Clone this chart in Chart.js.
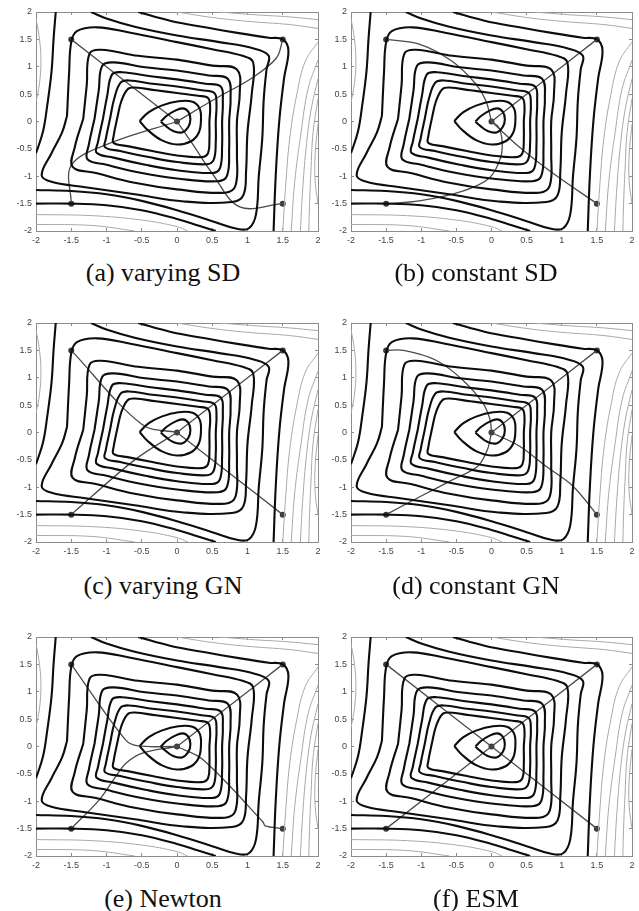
<!DOCTYPE html>
<html>
<head>
<meta charset="utf-8">
<script src="https://cdn.jsdelivr.net/npm/chart.js@4.4.1/dist/chart.umd.min.js"></script>
<style>
  body { margin: 0; background: #fff; width: 639px; height: 911px; position: relative; overflow: hidden; }
  canvas { position: absolute; }
  .cap { position: absolute; width: 320px; text-align: center; font-family: "Liberation Serif", serif; font-size: 26px; color: #111; }
</style>
</head>
<body>
<canvas id="pa" width="322" height="253" style="left:0px;top:0px"></canvas>
<canvas id="pb" width="321" height="253" style="left:315px;top:0px"></canvas>
<canvas id="pc" width="322" height="253" style="left:0px;top:311px"></canvas>
<canvas id="pd" width="321" height="253" style="left:315px;top:311px"></canvas>
<canvas id="pe" width="322" height="253" style="left:0px;top:625px"></canvas>
<canvas id="pf" width="321" height="253" style="left:315px;top:625px"></canvas>
<div class="cap" style="left:3px;top:258px">(a) varying SD</div>
<div class="cap" style="left:316px;top:258px">(b) constant SD</div>
<div class="cap" style="left:3px;top:571px">(c) varying GN</div>
<div class="cap" style="left:316px;top:571px">(d) constant GN</div>
<div class="cap" style="left:3px;top:884px">(e) Newton</div>
<div class="cap" style="left:316px;top:884px">(f) ESM</div>
<script>
// tick labels
const tickValues = [-2, -1.5, -1, -0.5, 0, 0.5, 1, 1.5, 2];

// black level curves (closed loops around the minimum)
const loop1 = [[-0.23,0],[-0.15,0.1],[-0.04,0.19],[0.08,0.24],[0.16,0.18],[0.19,0.04],[0.16,-0.1],[0.07,-0.2],[-0.06,-0.17],[-0.16,-0.08],[-0.23,0]];
const loop2 = [[-0.53,0.01],[-0.4,0.17],[-0.22,0.29],[0.02,0.37],[0.22,0.36],[0.32,0.24],[0.34,0.03],[0.31,-0.2],[0.2,-0.36],[0,-0.42],[-0.22,-0.34],[-0.42,-0.15],[-0.53,0.01]];
const loop3 = [[-0.85,0.05],[-0.79,0.37],[-0.7,0.59],[-0.6,0.62],[-0.3,0.57],[0,0.52],[0.3,0.47],[0.44,0.43],[0.47,0.27],[0.46,0],[0.46,-0.33],[0.44,-0.58],[0.35,-0.65],[0,-0.62],[-0.35,-0.54],[-0.7,-0.45],[-0.9,-0.39],[-0.9,-0.27],[-0.85,0.05]];
const loop4 = [[-0.95,0.05],[-0.89,0.42],[-0.8,0.71],[-0.68,0.75],[-0.35,0.69],[0,0.64],[0.35,0.57],[0.53,0.52],[0.56,0.32],[0.55,0],[0.55,-0.38],[0.52,-0.7],[0.42,-0.78],[0,-0.74],[-0.4,-0.65],[-0.8,-0.54],[-1.02,-0.47],[-1.01,-0.32],[-0.95,0.05]];
const loop5 = [[-1.05,0.05],[-0.99,0.47],[-0.92,0.86],[-0.78,0.9],[-0.4,0.83],[0,0.77],[0.4,0.69],[0.62,0.64],[0.65,0.37],[0.64,0],[0.64,-0.43],[0.61,-0.85],[0.5,-0.94],[0,-0.89],[-0.45,-0.79],[-0.9,-0.66],[-1.14,-0.57],[-1.12,-0.37],[-1.05,0.05]];
const loop6 = [[-1.17,0.05],[-1.11,0.57],[-1.06,1.02],[-0.9,1.08],[-0.45,0.99],[0,0.93],[0.45,0.84],[0.72,0.78],[0.76,0.42],[0.74,0],[0.74,-0.48],[0.71,-0.99],[0.58,-1.09],[0,-1.04],[-0.5,-0.94],[-1,-0.79],[-1.27,-0.69],[-1.25,-0.42],[-1.17,0.05]];
const loop7 = [[-1.33,0.05],[-1.28,0.67],[-1.24,1.24],[-1.08,1.31],[-0.55,1.2],[0,1.13],[0.5,1.02],[0.85,0.95],[0.89,0.52],[0.85,0],[0.85,-0.58],[0.83,-1.17],[0.68,-1.3],[0,-1.24],[-0.6,-1.12],[-1.15,-0.94],[-1.48,-0.83],[-1.45,-0.47],[-1.33,0.05]];
const loop8 = [[-1.56,0.1],[-1.53,0.9],[-1.5,1.45],[-1.42,1.65],[-1.13,1.72],[-0.66,1.62],[0,1.45],[0.5,1.32],[0.93,1.2],[1.08,1.08],[1.06,0.5],[1,-0.2],[0.98,-0.9],[0.94,-1.35],[0.78,-1.47],[0.1,-1.46],[-0.6,-1.33],[-1.3,-1.2],[-1.78,-1.1],[-1.92,-0.98],[-1.78,-0.58],[-1.63,-0.2],[-1.56,0.1]];

// black level curves cut by the frame
const open1 = [[-1.72,2],[-1.75,1.52],[-1.78,0.91],[-1.84,0.3],[-1.9,-0.18],[-2,-0.58]];
const open2 = [[-2,-1.25],[-1.5,-1.27],[-1,-1.33],[-0.5,-1.45],[0,-1.62],[0.5,-1.82],[0.85,-1.96],[1.02,-1.95],[1.12,-1.7],[1.16,-1],[1.21,-0.3],[1.23,0.4],[1.27,0.95],[1.3,1.2],[1.1,1.33],[0.6,1.45],[0,1.57],[-0.6,1.73],[-1,1.88],[-1.22,2]];
const open3 = [[-2,-1.5],[-1.5,-1.5],[-1,-1.53],[-0.5,-1.62],[0,-1.78],[0.3,-1.9],[0.55,-2]];
const open4 = [[-0.55,2],[-0.1,1.84],[0.4,1.72],[0.9,1.61],[1.3,1.53],[1.5,1.5],[1.58,1.3],[1.52,0.8],[1.45,0],[1.4,-1],[1.37,-2]];

// grey level curves
const grey1 = [[-2,1.88],[-1.95,1.5],[-1.93,1.1],[-1.95,0.7],[-2,0.35]];
const grey2 = [[0,2],[0.5,1.9],[1,1.83],[1.6,1.77],[2,1.7]];
const grey3 = [[0.6,2],[1.1,1.95],[1.6,1.91],[2,1.86]];
const grey4 = [[2,1.45],[1.82,1.1],[1.7,0.5],[1.6,-0.3],[1.54,-1.2],[1.5,-2]];
const grey5 = [[2,1.12],[1.86,0.6],[1.76,-0.2],[1.67,-1.1],[1.62,-2]];
const grey6 = [[2,0.78],[1.9,0.2],[1.83,-0.5],[1.78,-1.3],[1.75,-2]];
const grey7 = [[2,0.42],[1.93,-0.2],[1.9,-0.9],[1.88,-1.5],[1.87,-2]];
const grey8 = [[2,-0.05],[1.96,-0.6],[1.96,-1.1],[2,-1.5]];
const grey9 = [[-2,-1.7],[-1.2,-1.72],[-0.5,-1.8],[0,-1.92],[0.15,-2]];
const grey10 = [[-2,-1.88],[-1.2,-1.9],[-0.6,-2]];

// start points and minimum
const markers = [[-1.5,1.5],[1.5,1.5],[-1.5,-1.5],[1.5,-1.5],[0,0]];

// optimisation paths, one set per panel
const pathsA = [
  [[-1.5,1.5],[-0.75,0.75],[0,0]],
  [[1.5,1.5],[1.41,1.16],[1.07,0.8],[0.55,0.42],[0,0]],
  [[-1.5,-1.5],[-1.5,-0.8],[-0.96,-0.4],[0,0]],
  [[1.5,-1.5],[0.89,-1.56],[0.5,-0.95],[0.22,-0.41],[0,0]]
];
const pathsB = [
  [[-1.5,1.5],[-1.02,1.41],[-0.56,1.1],[-0.22,0.68],[-0.08,0.38],[0,0]],
  [[1.5,1.5],[0.75,0.75],[0,0]],
  [[-1.5,-1.5],[-1.03,-1.45],[-0.41,-1.27],[-0.03,-1.03],[0.13,-0.66],[0.15,-0.35],[0.1,-0.1],[0,0]],
  [[1.5,-1.5],[0.88,-0.95],[0.4,-0.47],[0,0]]
];
const pathsC = [
  [[-1.5,1.5],[-0.5,0.15],[0,0]],
  [[1.5,1.5],[0.75,0.75],[0,0]],
  [[-1.5,-1.5],[-0.6,-0.5],[0,0]],
  [[1.5,-1.5],[0.75,-0.75],[0,0]]
];
const pathsD = [
  [[-1.5,1.5],[-1.25,1.5],[-0.79,1.32],[-0.41,0.96],[-0.12,0.53],[-0.02,0.23],[0,0]],
  [[1.5,1.5],[0.75,0.75],[0,0]],
  [[-1.5,-1.5],[-1,-1.16],[-0.55,-0.86],[-0.2,-0.62],[-0.06,-0.32],[0,0]],
  [[1.5,-1.5],[1.16,-0.98],[0.78,-0.62],[0.4,-0.25],[0,0]]
];
const pathsE = [
  [[-1.5,1.5],[-0.73,0.12],[-0.55,0.01],[0,0]],
  [[1.5,1.5],[0.75,0.75],[0,0]],
  [[-1.5,-1.5],[-1.1,-0.97],[-0.87,-0.55],[-0.72,-0.3],[-0.49,-0.12],[0,0]],
  [[1.5,-1.5],[1.25,-1.45],[1.22,-1.38],[0.37,-0.24],[0,0]]
];
const pathsF = [
  [[-1.5,1.5],[0,0]],
  [[1.5,1.5],[0,0]],
  [[-1.5,-1.5],[0,0]],
  [[1.5,-1.5],[0,0]]
];

const blackCurves = [loop1, loop2, loop3, loop4, loop5, loop6, loop7, loop8, open1, open2, open3, open4];
const greyCurves = [grey1, grey2, grey3, grey4, grey5, grey6, grey7, grey8, grey9, grey10];

function toXY(pairs) {
  return pairs.map(p => ({ x: p[0], y: p[1] }));
}

function fmtTick(v) {
  return String(Math.round(v * 10) / 10);
}

function buildDatasets(paths) {
  const sets = [];
  greyCurves.forEach(c => sets.push({
    data: toXY(c), borderColor: '#a8a8a8', borderWidth: 1, pointRadius: 0, tension: 0.4, showLine: true
  }));
  blackCurves.forEach(c => sets.push({
    data: toXY(c), borderColor: '#0d0d0d', borderWidth: 2.1, pointRadius: 0, tension: 0.4, showLine: true
  }));
  paths.forEach(p => sets.push({
    data: toXY(p), borderColor: '#4a4a4a', borderWidth: 1.3, pointRadius: 0, tension: 0.35, showLine: true
  }));
  sets.push({
    data: toXY(markers), showLine: false, pointRadius: 3, pointBackgroundColor: '#3a3a3a', pointBorderColor: '#3a3a3a', pointBorderWidth: 0
  });
  return sets;
}

function makePanel(id, paths) {
  const frame = { display: true, color: '#8c8c8c', width: 1 };
  const innerTicks = { drawOnChartArea: false, drawTicks: true, tickLength: -3, color: '#8c8c8c' };
  const tickFont = { family: 'Liberation Sans', size: 9 };
  const noPad = s => { s.paddingLeft = 0; s.paddingRight = 0; s.paddingTop = 0; s.paddingBottom = 0; };
  new Chart(document.getElementById(id), {
    type: 'scatter',
    data: { datasets: buildDatasets(paths) },
    options: {
      responsive: false,
      animation: false,
      devicePixelRatio: 1,
      layout: { padding: { top: 12, right: 4, left: 0, bottom: 0 } },
      plugins: { legend: { display: false }, tooltip: { enabled: false } },
      scales: {
        x: {
          type: 'linear', position: 'bottom', min: -2, max: 2,
          afterBuildTicks: s => { s.ticks = tickValues.map(v => ({ value: v })); },
          afterFit: s => { s.height = 22; noPad(s); },
          ticks: { callback: fmtTick, font: tickFont, color: '#444', padding: 7, maxRotation: 0 },
          grid: innerTicks, border: frame
        },
        y: {
          type: 'linear', position: 'left', min: -2, max: 2,
          afterBuildTicks: s => { s.ticks = tickValues.map(v => ({ value: v })); },
          afterFit: s => { s.width = 36; noPad(s); },
          ticks: { callback: fmtTick, font: tickFont, color: '#444', padding: 7 },
          grid: innerTicks, border: frame
        },
        x2: {
          type: 'linear', position: 'top', min: -2, max: 2,
          afterBuildTicks: s => { s.ticks = tickValues.map(v => ({ value: v })); },
          afterFit: s => { s.height = 0; noPad(s); },
          ticks: { display: false },
          grid: innerTicks, border: frame
        },
        y2: {
          type: 'linear', position: 'right', min: -2, max: 2,
          afterBuildTicks: s => { s.ticks = tickValues.map(v => ({ value: v })); },
          afterFit: s => { s.width = 0; noPad(s); },
          ticks: { display: false },
          grid: innerTicks, border: frame
        }
      }
    }
  });
}

makePanel('pa', pathsA);
makePanel('pb', pathsB);
makePanel('pc', pathsC);
makePanel('pd', pathsD);
makePanel('pe', pathsE);
makePanel('pf', pathsF);
</script>
</body>
</html>
